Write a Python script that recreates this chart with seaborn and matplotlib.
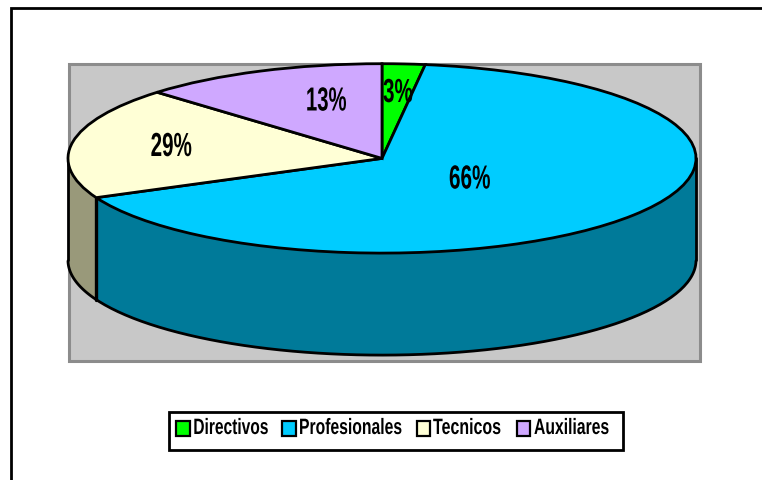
import numpy as np
import matplotlib
matplotlib.use("Agg")
import matplotlib.pyplot as plt
from matplotlib.patches import Rectangle
from matplotlib.patheffects import AbstractPathEffect
from matplotlib.transforms import Affine2D
import seaborn as sns

categories = ["Directivos", "Profesionales", "Tecnicos", "Auxiliares"]
shares = [2.2, 66.0, 19.1, 12.7]          # wedge sizes as drawn
labels = ["3%", "66%", "29%", "13%"]      # labels as printed
top_colors = ["#00FF00", "#00CCFF", "#FFFFD6", "#CFA8FF"]
side_colors = ["#008000", "#007A99", "#99997A", "#7A5C99"]

sns.set_theme(style="white")
plt.rcParams["font.family"] = ["Liberation Sans", "DejaVu Sans"]
palette = sns.color_palette(top_colors)

W, H = 762, 481
fig = plt.figure(figsize=(W / 100, H / 100), dpi=100, facecolor="white")


def px_axes(x0, y0, x1, y1, **kw):
    return fig.add_axes([x0 / W, 1 - y1 / H, (x1 - x0) / W, (y1 - y0) / H], **kw)


class Condense(AbstractPathEffect):
    """Squeeze a text horizontally about a display x position (narrow font look)."""

    def __init__(self, sx, x0):
        super().__init__()
        self.sx, self.x0 = sx, x0

    def draw_path(self, renderer, gc, tpath, affine, rgbFace=None):
        squeeze = Affine2D().translate(-self.x0, 0).scale(self.sx, 1).translate(self.x0, 0)
        renderer.draw_path(gc, tpath, affine + squeeze, rgbFace)


bg = px_axes(0, 0, W, H)
bg.set_xlim(0, W); bg.set_ylim(H, 0); bg.axis("off")
bg.add_patch(Rectangle((10.5, 9), W + 50, H + 50, fc="white", ec="black", lw=2.0))
bg.add_patch(Rectangle((69, 65), 631, 297, fc="#C8C8C8", ec="#8C8C8C", lw=2.2))

# Pie axes: unit circle stretched to the ellipse, side wall drawn under it
cx, cy, rx, ry, depth = 382, 159.4, 314, 94.7, 102
ax = px_axes(cx - rx, cy - ry, cx + rx, cy + ry, facecolor="none")
ax.patch.set_alpha(0)
d = depth / ry
angles = np.cumsum([0] + shares) / sum(shares) * 360  # clockwise from top
for i in range(len(shares)):
    t = np.radians(np.linspace(angles[i], angles[i + 1], 200))
    x, y = np.sin(t), np.cos(t)
    vis = y <= 0
    if vis.any():
        xs, ys = x[vis], y[vis]
        ax.fill(np.r_[xs, xs[::-1]], np.r_[ys, ys[::-1] - d], color=side_colors[i], lw=0,
                clip_on=False, zorder=1)
        ax.plot(xs, ys - d, color="black", lw=2, clip_on=False, zorder=2)
ax.plot([-1, -1], [0, -d], color="black", lw=2, clip_on=False, zorder=2)
ax.plot([1, 1], [0, -d], color="black", lw=2, clip_on=False, zorder=2)
tb = np.radians(angles[2])
ax.plot([np.sin(tb)] * 2, [np.cos(tb), np.cos(tb) - d], color="black", lw=2.4, clip_on=False, zorder=2)

ax.pie(shares, colors=palette, startangle=90, counterclock=False, radius=1,
       wedgeprops=dict(edgecolor="black", linewidth=2, zorder=3, clip_on=False))
ax.set_aspect("auto")
ax.set_xlim(-1, 1); ax.set_ylim(-1, 1)
bg.set_zorder(0); ax.set_zorder(1)

top = px_axes(0, 0, W, H, facecolor="none")
top.set_xlim(0, W); top.set_ylim(H, 0); top.axis("off"); top.set_zorder(2)
renderer = fig.canvas.get_renderer()


def narrow_text(x, base, s, width, size, ha):
    txt = top.text(x, base, s, ha=ha, va="baseline", fontsize=size, fontweight="bold", color="black")
    sx = width / txt.get_window_extent(renderer).width
    txt.set_path_effects([Condense(sx, x)])
    return txt


# Percentage labels: centre x, baseline y, printed width
label_px = [(398, 103, 30), (469.8, 189.5, 41.7), (171.3, 157, 41.3), (326.3, 111.5, 40.7)]
for s, (lx, ly, lw_) in zip(labels, label_px):
    narrow_text(lx, ly, s, lw_, 24, "center")

# Legend
top.add_patch(Rectangle((169, 412.7), 454, 38.3, fc="white", ec="black", lw=2))
swatch_x = [176, 282, 416.8, 516.8]
text_x = [193.3, 299, 433, 534]
text_w = [75, 103, 68, 75]
for c, name, sxp, tx, tw in zip(palette, categories, swatch_x, text_x, text_w):
    top.add_patch(Rectangle((sxp, 422), 13.5, 14.5, fc=c, ec="black", lw=1.6))
    narrow_text(tx, 435, name, tw, 16, "left")

fig.savefig("out.png", dpi=100, facecolor="white")
